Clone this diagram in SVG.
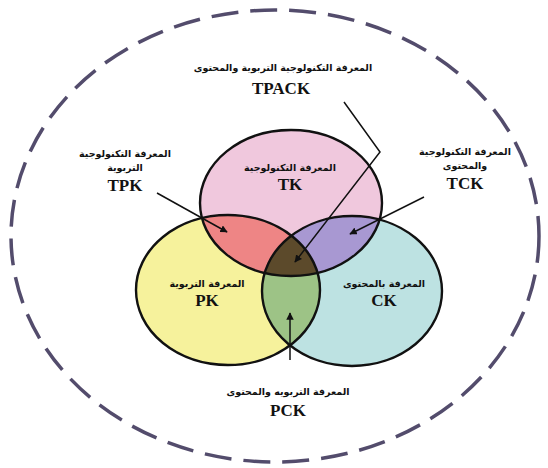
<svg xmlns="http://www.w3.org/2000/svg" width="548" height="468" viewBox="0 0 548 468">
<style>
.ar{font-family:"DejaVu Sans","Noto Sans",sans-serif;font-weight:bold;font-size:9.5px;fill:#111;text-anchor:middle}
.en{font-family:"Liberation Serif","Times New Roman",serif;font-weight:bold;font-size:17px;fill:#111;text-anchor:middle}
.ring{fill:none;stroke:#111;stroke-width:2.4}
.conn{fill:none;stroke:#111;stroke-width:1.5}
</style>
<defs>
<marker id="ah" viewBox="0 0 10 10" refX="9" refY="5" markerWidth="5" markerHeight="5" orient="auto" markerUnits="strokeWidth">
<path d="M0,0 L10,5 L0,10 z" fill="#111"/>
</marker>
<clipPath id="cTK"><ellipse cx="291" cy="203" rx="91" ry="73"/></clipPath>
<clipPath id="cPK"><ellipse cx="228" cy="290" rx="92" ry="75"/></clipPath>
<clipPath id="cCK"><ellipse cx="352" cy="291" rx="90" ry="75"/></clipPath>
</defs>
<rect width="548" height="468" fill="#ffffff"/>
<g id="outer">
<ellipse cx="275" cy="236" rx="264" ry="226" fill="none" stroke="#534c6c" stroke-width="3.5" stroke-dasharray="27 12"/>
</g>
<g id="TK"><ellipse cx="291" cy="203" rx="91" ry="73" fill="#f0c8dd"/></g>
<g id="PK"><ellipse cx="228" cy="290" rx="92" ry="75" fill="#f6f29c"/></g>
<g id="CK"><ellipse cx="352" cy="291" rx="90" ry="75" fill="#bde2e2"/></g>
<g id="TPK" clip-path="url(#cTK)"><ellipse cx="228" cy="290" rx="92" ry="75" fill="#ee8585"/></g>
<g id="TCK" clip-path="url(#cTK)"><ellipse cx="352" cy="291" rx="90" ry="75" fill="#a898d2"/></g>
<g id="PCK" clip-path="url(#cPK)"><ellipse cx="352" cy="291" rx="90" ry="75" fill="#9dc386"/></g>
<g id="TPACK" clip-path="url(#cTK)"><g clip-path="url(#cPK)"><ellipse cx="352" cy="291" rx="90" ry="75" fill="#5c4a2b"/></g></g>
<g id="outlines">
<ellipse class="ring" cx="291" cy="203" rx="91" ry="73"/>
<ellipse class="ring" cx="228" cy="290" rx="92" ry="75"/>
<ellipse class="ring" cx="352" cy="291" rx="90" ry="75"/>
</g>
<g id="connectors">
<polyline class="conn" points="344,102 380,152 295,262" marker-end="url(#ah)"/>
<line class="conn" x1="157" y1="193" x2="227" y2="232" marker-end="url(#ah)"/>
<line class="conn" x1="424" y1="197" x2="350" y2="234" marker-end="url(#ah)"/>
<line class="conn" x1="290" y1="360" x2="290" y2="313" marker-end="url(#ah)"/>
</g>
<g id="labels">
<g id="lbl-TPACK"><text class="ar" x="283" y="71">المعرفة التكنولوجية التربوية والمحتوى</text><text class="en" x="281" y="94">TPACK</text></g>
<g id="lbl-TPK"><text class="ar" x="125" y="157">المعرفة التكنولوجية</text><text class="ar" x="125" y="171">التربوية</text><text class="en" x="125" y="191">TPK</text></g>
<g id="lbl-TCK"><text class="ar" x="465" y="155">المعرفة التكنولوجية</text><text class="ar" x="465" y="169">والمحتوى</text><text class="en" x="465" y="189">TCK</text></g>
<g id="lbl-TK"><text class="ar" x="290" y="171">المعرفة التكنولوجية</text><text class="en" x="290" y="190">TK</text></g>
<g id="lbl-PK"><text class="ar" x="207" y="287">المعرفة التربوية</text><text class="en" x="207" y="306">PK</text></g>
<g id="lbl-CK"><text class="ar" x="384" y="287">المعرفة بالمحتوى</text><text class="en" x="384" y="306">CK</text></g>
<g id="lbl-PCK"><text class="ar" x="288" y="395">المعرفة التربويه والمحتوى</text><text class="en" x="288" y="416">PCK</text></g>
</g>
</svg>
